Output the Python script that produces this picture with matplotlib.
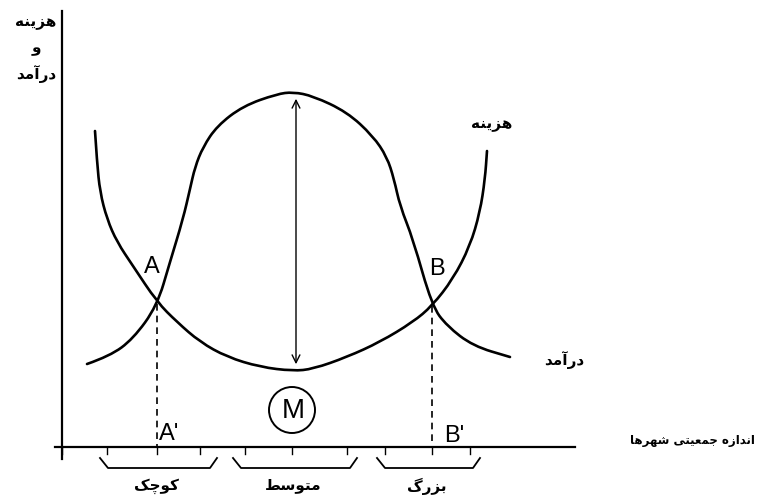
import matplotlib.pyplot as plt
from matplotlib.patches import Circle, PathPatch
from matplotlib.path import Path

# curve points (pixel units, y grows downward)
cost_x = [95, 97, 100, 107, 117, 133, 157, 177, 200, 227, 260, 293, 313, 347, 380, 413, 432, 453, 470, 480, 485, 487]
cost_y = [132, 163, 193, 220, 243, 267, 303, 323, 343, 358, 368, 372, 370, 358, 343, 323, 307, 280, 247, 213, 180, 152]

revenue_x = [87, 110, 133, 157, 170, 183, 190, 195, 203, 217, 243, 277, 293, 313, 347, 373, 387, 394, 400, 413, 432, 447, 473, 510]
revenue_y = [365, 357, 340, 307, 263, 220, 190, 168, 148, 127, 107, 95, 93, 97, 113, 137, 158, 180, 207, 240, 307, 327, 347, 358]

cross_x = [157, 432]
cross_y = [305, 307]
cross_names = ["A", "B"]
foot_names = ["A'", "B'"]

tick_x = [62, 107, 157, 200, 245, 292, 347, 385, 432, 470]
group_left = [100, 233, 377]
group_right = [217, 357, 480]
group_names = ["کوچک", "متوسط", "بزرگ"]

y_label = ["هزینه", "و", "درآمد"]
cost_label = "هزینه"
revenue_label = "درآمد"
x_label = "اندازه جمعیتی شهرها"

# minimal Persian shaping: presentation forms (isolated, final, initial, medial)
FORMS = {
    "ا": ("\uFE8D", "\uFE8E", None, None), "آ": ("\uFE81", "\uFE82", None, None),
    "ب": ("\uFE8F", "\uFE90", "\uFE91", "\uFE92"), "ت": ("\uFE95", "\uFE96", "\uFE97", "\uFE98"),
    "ج": ("\uFE9D", "\uFE9E", "\uFE9F", "\uFEA0"), "چ": ("\uFB7A", "\uFB7B", "\uFB7C", "\uFB7D"),
    "د": ("\uFEA9", "\uFEAA", None, None), "ر": ("\uFEAD", "\uFEAE", None, None),
    "ز": ("\uFEAF", "\uFEB0", None, None), "س": ("\uFEB1", "\uFEB2", "\uFEB3", "\uFEB4"),
    "ش": ("\uFEB5", "\uFEB6", "\uFEB7", "\uFEB8"), "ط": ("\uFEC1", "\uFEC2", "\uFEC3", "\uFEC4"),
    "ع": ("\uFEC9", "\uFECA", "\uFECB", "\uFECC"), "م": ("\uFEE1", "\uFEE2", "\uFEE3", "\uFEE4"),
    "ن": ("\uFEE5", "\uFEE6", "\uFEE7", "\uFEE8"), "ه": ("\uFEE9", "\uFEEA", "\uFEEB", "\uFEEC"),
    "و": ("\uFEED", "\uFEEE", None, None), "ی": ("\uFBFC", "\uFBFD", "\uFBFE", "\uFBFF"),
    "ک": ("\uFB8E", "\uFB8F", "\uFB90", "\uFB91"), "گ": ("\uFB92", "\uFB93", "\uFB94", "\uFB95"),
}


def shape(word):
    out = []
    for i, ch in enumerate(word):
        if ch not in FORMS:
            out.append(ch)
            continue
        prev = word[i - 1] if i > 0 else ""
        nxt = word[i + 1] if i + 1 < len(word) else ""
        jp = prev in FORMS and FORMS[prev][2] is not None
        jn = FORMS[ch][2] is not None and nxt in FORMS
        iso, fin, ini, med = FORMS[ch]
        out.append(med if jp and jn else fin if jp else ini if jn else iso)
    return "".join(reversed(out))


def smooth(xs, ys):
    # quadratic beziers through the midpoints of the read points
    verts = [(xs[0], ys[0])]
    codes = [Path.MOVETO]
    for i in range(1, len(xs) - 1):
        verts += [(xs[i], ys[i]), ((xs[i] + xs[i + 1]) / 2, (ys[i] + ys[i + 1]) / 2)]
        codes += [Path.CURVE3, Path.CURVE3]
    verts.append((xs[-1], ys[-1]))
    codes.append(Path.LINETO)
    return Path(verts, codes)


fa = dict(family=["DejaVu Sans"], fontweight="bold", color="black")
la = dict(family=["Liberation Sans", "DejaVu Sans"], color="black")

fig = plt.figure(figsize=(7.59, 5.02), dpi=100)
ax = fig.add_axes([0, 0, 1, 1])
ax.set_xlim(0, 759)
ax.set_ylim(502, 0)
ax.axis("off")

# axes
ax.plot([62, 62], [12, 460], color="black", lw=1.6)
ax.plot([55, 575], [448, 448], color="black", lw=1.6)
for t in tick_x:
    ax.plot([t, t], [448, 455], color="black", lw=1.0)

# curves
for xs, ys in [(cost_x, cost_y), (revenue_x, revenue_y)]:
    ax.add_patch(PathPatch(smooth(xs, ys), fill=False, edgecolor="black", lw=1.9,
                           capstyle="round", joinstyle="round"))

# gap between the curves at the top of the hump
ax.annotate("", xy=(296, 97), xytext=(296, 368),
            arrowprops=dict(arrowstyle="<->", color="black", lw=1.0, mutation_scale=14))

for x, y, n, f, dx in zip(cross_x, cross_y, cross_names, foot_names, [-5, 5]):
    ax.plot([x, x], [y, 448], color="black", lw=1.2, ls=(0, (4, 3)))
    ax.text(x + dx, y - 38, n, fontsize=17, ha="center", va="center", **la)
    ax.text(x + 17 + dx, y + 129, f, fontsize=17, ha="center", va="center", **la)

ax.add_patch(Circle((292, 411), 23, fill=False, color="black", lw=1.4))
ax.text(293, 411, "M", fontsize=20, ha="center", va="center", **la)

# size groups
for l, r, n in zip(group_left, group_right, group_names):
    ax.plot([l, l + 8, r - 7, r], [459, 469, 469, 459], color="black", lw=1.3)
    ax.text((l + r) / 2 - 2, 486, shape(n), fontsize=11, ha="center", va="center", **fa)

for i, w in enumerate(y_label):
    ax.text(36, 22 + 26 * i, shape(w), fontsize=11, ha="center", va="center", **fa)
ax.text(492, 124, shape(cost_label), fontsize=11, ha="center", va="center", **fa)
ax.text(564, 360, shape(revenue_label), fontsize=11, ha="center", va="center", **fa)
ax.text(692, 441, shape(x_label), fontsize=8.5, ha="center", va="center", **fa)

fig.savefig("out.png", dpi=100)
